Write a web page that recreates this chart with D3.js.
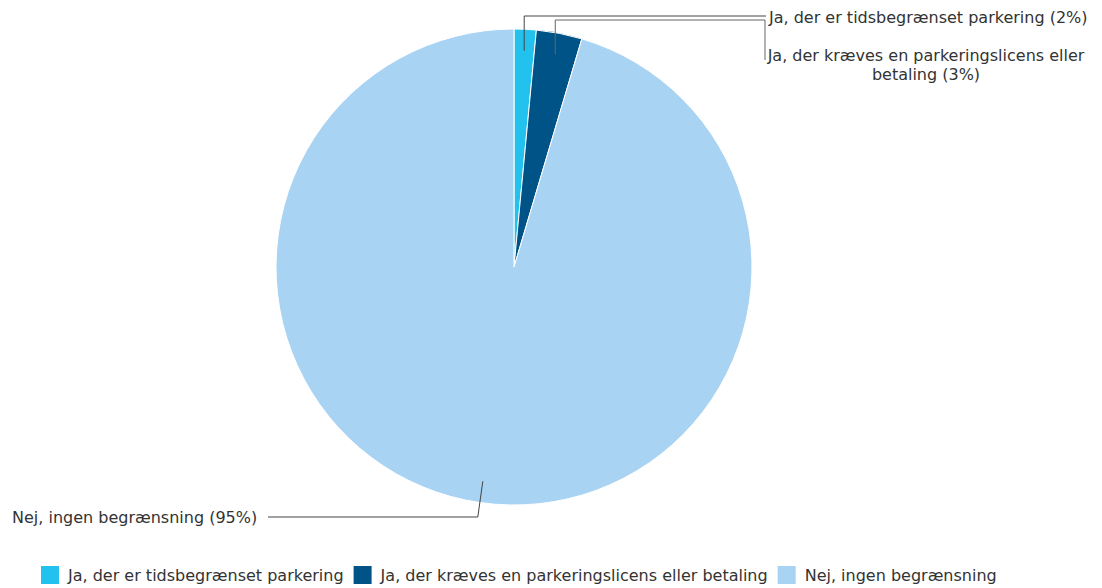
<!DOCTYPE html>
<html><head><meta charset="utf-8">
<script src="https://cdn.jsdelivr.net/npm/d3@7/dist/d3.min.js"></script>
<style>body{margin:0;background:#fff;} text{font-family:"DejaVu Sans",Verdana,sans-serif;fill:#333;}</style>
</head><body>
<svg id="c" width="1102" height="588"></svg>
<script>
const categories = ["Ja, der er tidsbegrænset parkering","Ja, der kræves en parkeringslicens eller betaling","Nej, ingen begrænsning"];
const values = [1.5, 3.1, 95.4];
const pctLabels = ["2%","3%","95%"];
const colors = ["#22c1ee","#005387","#a9d3f3"];

const svg = d3.select("#c");
const cx = 514, cy = 267, R = 238;
const g = svg.append("g").attr("transform",`translate(${cx},${cy})`);
const pie = d3.pie().sort(null).value(d=>d)(values);
const arc = d3.arc().innerRadius(0).outerRadius(R);
g.selectAll("path").data(pie).enter().append("path")
  .attr("d",arc).attr("fill",(d,i)=>colors[i]).attr("stroke","#fff").attr("stroke-width",1);

const anchor = d => { const a=(d.startAngle+d.endAngle)/2, r=R*0.91; return [cx+r*Math.sin(a), cy-r*Math.cos(a)]; };
const lines = svg.append("g").attr("fill","none").attr("stroke","#444").attr("stroke-width",1);
const a0 = anchor(pie[0]), a1 = anchor(pie[1]), a2 = anchor(pie[2]);
lines.append("path").attr("d",`M${a0[0]},${a0[1]}V16H766`);
lines.append("path").attr("d",`M${a1[0]},${a1[1]}V20H765V60`).attr("stroke","#666");
lines.append("path").attr("d",`M${a2[0]},${a2[1]}L${a2[0]-5},517H268`);

const fs = 16;
svg.append("text").attr("x",769).attr("y",23).attr("font-size",fs).text(`${categories[0]} (${pctLabels[0]})`);
const t2 = svg.append("text").attr("x",926).attr("text-anchor","middle").attr("font-size",fs);
t2.append("tspan").attr("x",926).attr("y",61).text("Ja, der kræves en parkeringslicens eller");
t2.append("tspan").attr("x",926).attr("y",80).text(`betaling (${pctLabels[1]})`);
svg.append("text").attr("x",12).attr("y",523).attr("font-size",fs).text(`${categories[2]} (${pctLabels[2]})`);

const leg = svg.append("g");
let x = 41;
categories.forEach((c,i)=>{
  leg.append("rect").attr("x",x).attr("y",566).attr("width",18).attr("height",18).attr("fill",colors[i]);
  const t = leg.append("text").attr("x",x+27).attr("y",581).attr("font-size",fs).text(c);
  x = x + 27 + t.node().getComputedTextLength() + 10;
});
</script>
</body></html>
